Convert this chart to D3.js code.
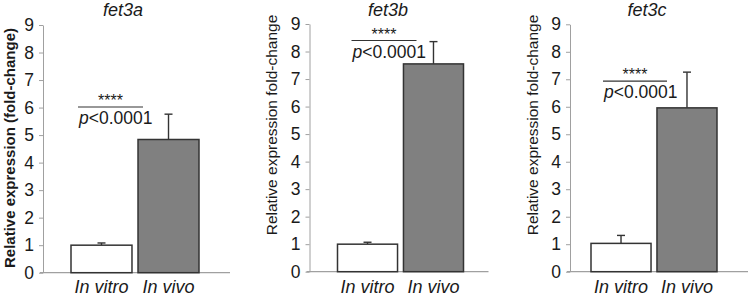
<!DOCTYPE html>
<html>
<head>
<meta charset="utf-8">
<script src="https://cdn.jsdelivr.net/npm/d3@7"></script>
<style>
  body { margin: 0; background: #fff; }
  svg text { font-family: "Liberation Sans", Arial, sans-serif; fill: #1a1a1a; }
</style>
</head>
<body>
<div id="chart"></div>
<script>
// chart data
const genes = ["fet3a", "fet3b", "fet3c"];
const categories = ["In vitro", "In vivo"];
const meanFet3a = [1.0, 4.84];
const meanFet3b = [1.0, 7.55];
const meanFet3c = [1.03, 5.96];
const errFet3a = [0.08, 0.92];
const errFet3b = [0.07, 0.81];
const errFet3c = [0.29, 1.30];
const sigLevel = [6.02, 8.4, 6.93];
const yTicks = [0, 1, 2, 3, 4, 5, 6, 7, 8, 9];
const yLabels = ["Relative expression (fold-change)", "Relative expression fold-change", "Relative expression fold-change"];
const pText = "<0.0001";

const means = [meanFet3a, meanFet3b, meanFet3c];
const errs = [errFet3a, errFet3b, errFet3c];

// layout of each panel (pixels)
const panels = [
  {axisX: 43, y0: 272.7, y9: 25, barL: 28, barR: 156, baseR: 187, lineL: 35, lineR: 100, labX: 10, labY: 148, titleX: 123, bold: true},
  {axisX: 309.5, y0: 271.7, y9: 24, barL: 28, barR: 154, baseR: 179, lineL: 42, lineR: 107, labX: 272, labY: 125, titleX: 388, bold: false},
  {axisX: 570, y0: 271.7, y9: 24.3, barL: 21, barR: 147, baseR: 178, lineL: 33, lineR: 97, labX: 533, labY: 125, titleX: 647, bold: false}
];

const svg = d3.select("#chart").append("svg")
    .attr("width", 750)
    .attr("height", 298);

panels.forEach((p, i) => {
    let g = svg.append("g");

    let y = d3.scaleLinear()
        .domain([0, 9])
        .range([p.y0, p.y9]);

    let x = d3.scaleBand()
        .domain(categories)
        .range([p.axisX + p.barL, p.axisX + p.barR])
        .paddingInner(0.09);

    // y axis
    let yAxis = g.append("g")
        .attr("transform", `translate(${p.axisX},0)`)
        .call(d3.axisLeft(y).tickValues(yTicks).tickSize(4).tickSizeOuter(0).tickPadding(5));
    yAxis.select(".domain").attr("stroke", "#a0a0a0");
    yAxis.selectAll(".tick line").attr("stroke", "#a0a0a0");
    yAxis.selectAll(".tick text")
        .style("font-size", "17.5px")
        .style("font-family", "'Liberation Sans', Arial, sans-serif")
        .attr("fill", "#1a1a1a");

    // baseline
    g.append("line")
        .attr("x1", p.axisX - 3)
        .attr("x2", p.axisX + p.baseR)
        .attr("y1", y(0))
        .attr("y2", y(0))
        .attr("stroke", "#a0a0a0")
        .attr("stroke-width", 1.2);

    let rows = categories.map((c, j) => ({cat: c, v: means[i][j], e: errs[i][j], j: j}));

    // error bars (upper only)
    g.selectAll(".err")
        .data(rows)
        .enter().append("line")
        .attr("x1", d => x(d.cat) + x.bandwidth() / 2)
        .attr("x2", d => x(d.cat) + x.bandwidth() / 2)
        .attr("y1", d => y(d.v))
        .attr("y2", d => y(d.v + d.e))
        .attr("stroke", "#333")
        .attr("stroke-width", 1.4);
    g.selectAll(".cap")
        .data(rows)
        .enter().append("line")
        .attr("x1", d => x(d.cat) + x.bandwidth() / 2 - 4)
        .attr("x2", d => x(d.cat) + x.bandwidth() / 2 + 4)
        .attr("y1", d => y(d.v + d.e))
        .attr("y2", d => y(d.v + d.e))
        .attr("stroke", "#333")
        .attr("stroke-width", 1.4);

    // bars
    g.selectAll(".bar")
        .data(rows)
        .enter().append("rect")
        .attr("x", d => x(d.cat))
        .attr("width", x.bandwidth())
        .attr("y", d => y(d.v))
        .attr("height", d => y(0) - y(d.v))
        .attr("fill", d => d.j === 0 ? "#ffffff" : "#808080")
        .attr("stroke", "#333")
        .attr("stroke-width", 1.5);

    // x labels
    g.selectAll(".xlab")
        .data(categories)
        .enter().append("text")
        .attr("x", d => x(d) + x.bandwidth() / 2)
        .attr("y", 293)
        .attr("text-anchor", "middle")
        .style("font-size", "18px")
        .style("font-style", "italic")
        .text(d => d);

    // title
    g.append("text")
        .attr("x", p.titleX)
        .attr("y", 16)
        .attr("text-anchor", "middle")
        .style("font-size", "18px")
        .style("font-style", "italic")
        .text(genes[i]);

    // y label
    g.append("text")
        .attr("transform", `translate(${p.labX},${p.labY}) rotate(-90)`)
        .attr("text-anchor", "middle")
        .attr("dy", "0.35em")
        .style("font-size", p.bold ? "15px" : "15.5px")
        .style("font-weight", p.bold ? "bold" : "normal")
        .text(yLabels[i]);

    // significance
    let ly = y(sigLevel[i]);
    g.append("line")
        .attr("x1", p.axisX + p.lineL)
        .attr("x2", p.axisX + p.lineR)
        .attr("y1", ly)
        .attr("y2", ly)
        .attr("stroke", "#333")
        .attr("stroke-width", 1.2);
    g.append("text")
        .attr("x", p.axisX + (p.lineL + p.lineR) / 2)
        .attr("y", ly - 1)
        .attr("text-anchor", "middle")
        .style("font-size", "16px")
        .text("****");
    let pt = g.append("text")
        .attr("x", p.axisX + p.lineL + 1)
        .attr("y", ly + 17)
        .style("font-size", "17.5px");
    pt.append("tspan").style("font-style", "italic").text("p");
    pt.append("tspan").text(pText);
});
</script>
</body>
</html>
